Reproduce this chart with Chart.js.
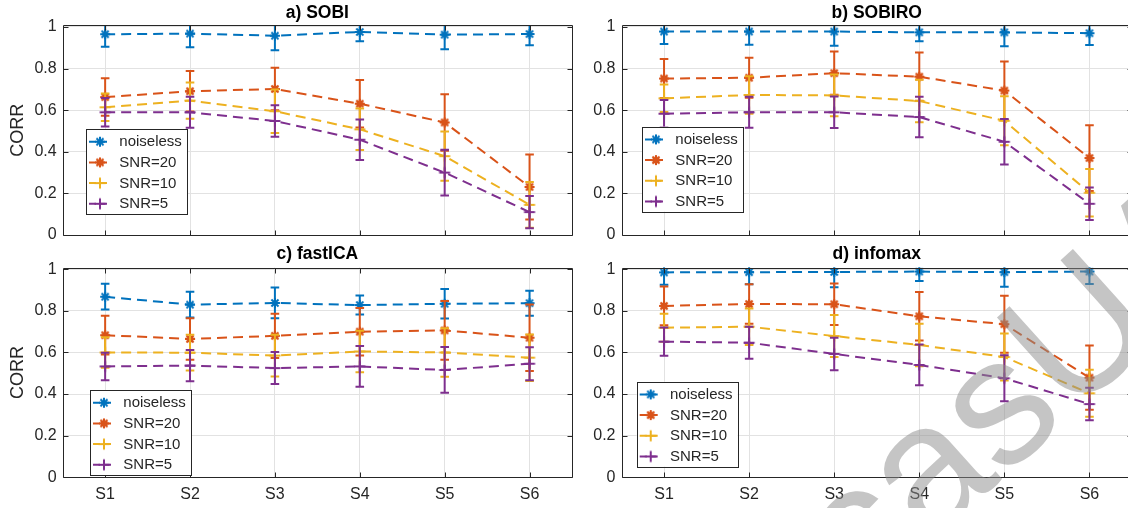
<!DOCTYPE html>
<html>
<head>
<meta charset="utf-8">
<script src="https://cdn.jsdelivr.net/npm/chart.js@4.4.1/dist/chart.umd.min.js"></script>
<style>
html,body{margin:0;padding:0;background:#fff;overflow:hidden;width:1128px;height:508px;position:relative;}
canvas{position:absolute;display:block;}
</style>
</head>
<body>
<canvas id="ca" width="600" height="252" style="left:0;top:0"></canvas>
<canvas id="cb" width="580" height="252" style="left:560px;top:0"></canvas>
<canvas id="cc" width="600" height="268" style="left:0;top:240px"></canvas>
<canvas id="cd" width="580" height="268" style="left:560px;top:240px"></canvas>
<canvas id="wm" width="1128" height="508" style="left:0;top:0;pointer-events:none"></canvas>
<script>
// ---------- data ----------
const categories = ['S1','S2','S3','S4','S5','S6'];
const seriesNames = ['noiseless','SNR=20','SNR=10','SNR=5'];
const yTickValues = [0, 0.2, 0.4, 0.6, 0.8, 1];
const panelTitles = ['a) SOBI','b) SOBIRO','c) fastICA','d) infomax'];
const yAxisTitle = 'CORR';
const watermarkText = 'casUA';

const sobiNoiseless    = [0.965, 0.968, 0.958, 0.976, 0.963, 0.966];
const sobiNoiselessErr = [0.060, 0.066, 0.070, 0.045, 0.070, 0.054];
const sobiSnr20        = [0.663, 0.691, 0.702, 0.631, 0.541, 0.231];
const sobiSnr20Err     = [0.090, 0.097, 0.102, 0.114, 0.136, 0.156];
const sobiSnr10        = [0.614, 0.646, 0.595, 0.508, 0.379, 0.145];
const sobiSnr10Err     = [0.066, 0.087, 0.105, 0.100, 0.118, 0.110];
const sobiSnr5         = [0.590, 0.590, 0.548, 0.458, 0.300, 0.110];
const sobiSnr5Err      = [0.068, 0.074, 0.076, 0.097, 0.110, 0.078];

const sobiroNoiseless    = [0.978, 0.978, 0.978, 0.974, 0.974, 0.970];
const sobiroNoiselessErr = [0.060, 0.064, 0.068, 0.043, 0.067, 0.057];
const sobiroSnr20        = [0.752, 0.756, 0.778, 0.761, 0.694, 0.370];
const sobiroSnr20Err     = [0.094, 0.096, 0.104, 0.116, 0.140, 0.158];
const sobiroSnr10        = [0.657, 0.673, 0.671, 0.644, 0.549, 0.203];
const sobiroSnr10Err     = [0.066, 0.090, 0.100, 0.102, 0.118, 0.114];
const sobiroSnr5         = [0.583, 0.590, 0.590, 0.567, 0.448, 0.150];
const sobiroSnr5Err      = [0.066, 0.075, 0.076, 0.097, 0.109, 0.078];

const fasticaNoiseless    = [0.868, 0.830, 0.838, 0.828, 0.834, 0.837];
const fasticaNoiselessErr = [0.062, 0.062, 0.074, 0.046, 0.071, 0.060];
const fasticaSnr20        = [0.683, 0.665, 0.680, 0.700, 0.706, 0.671];
const fasticaSnr20Err     = [0.093, 0.100, 0.106, 0.114, 0.141, 0.160];
const fasticaSnr10        = [0.600, 0.599, 0.585, 0.605, 0.600, 0.575];
const fasticaSnr10Err     = [0.073, 0.086, 0.100, 0.100, 0.117, 0.112];
const fasticaSnr5         = [0.533, 0.537, 0.525, 0.533, 0.516, 0.546];
const fasticaSnr5Err      = [0.066, 0.075, 0.077, 0.098, 0.110, 0.079];

const infomaxNoiseless    = [0.985, 0.986, 0.987, 0.989, 0.986, 0.989];
const infomaxNoiselessErr = [0.060, 0.058, 0.074, 0.045, 0.070, 0.060];
const infomaxSnr20        = [0.824, 0.833, 0.832, 0.774, 0.736, 0.479];
const infomaxSnr20Err     = [0.093, 0.095, 0.100, 0.117, 0.137, 0.154];
const infomaxSnr10        = [0.719, 0.724, 0.679, 0.636, 0.578, 0.404];
const infomaxSnr10Err     = [0.067, 0.088, 0.101, 0.102, 0.113, 0.113];
const infomaxSnr5         = [0.652, 0.647, 0.593, 0.540, 0.476, 0.352];
const infomaxSnr5Err      = [0.068, 0.077, 0.078, 0.098, 0.111, 0.078];

// ---------- styles ----------
const seriesColors = ['#0072BD', '#D95319', '#EDB120', '#7E2F8E'];
const markerKinds = ['star', 'blob', 'cross', 'cross'];
const FONT = '"Liberation Sans", Arial, Helvetica, sans-serif';
const TXT = '#262626';
const GRID = '#e2e2e2';

Chart.defaults.font.family = FONT;
Chart.defaults.color = TXT;

function makeMarker(kind, color) {
  const c = document.createElement('canvas');
  c.width = 16; c.height = 16;
  const g = c.getContext('2d');
  g.strokeStyle = color; g.fillStyle = color; g.lineWidth = 2;
  const cx = 8, cy = 8;
  const arms = (kind === 'cross') ? [0, 90] : [0, 45, 90, 135];
  const r = (kind === 'cross') ? 5.5 : 5;
  g.beginPath();
  arms.forEach(a => {
    const rad = a * Math.PI / 180;
    const dx = Math.cos(rad) * r, dy = Math.sin(rad) * r;
    g.moveTo(cx - dx, cy - dy); g.lineTo(cx + dx, cy + dy);
  });
  g.stroke();
  if (kind === 'blob') { g.beginPath(); g.arc(cx, cy, 3.6, 0, Math.PI * 2); g.fill(); }
  return c;
}
const markerImages = seriesColors.map((col, k) => makeMarker(markerKinds[k], col));

// ---------- plugins ----------
const errorBarPlugin = {
  id: 'errorBars',
  afterDatasetDraw(chart, args) {
    const ds = chart.data.datasets[args.index];
    if (!ds.errorBars) return;
    const ctx = chart.ctx, ys = chart.scales.y, a = chart.chartArea;
    ctx.save();
    ctx.beginPath(); ctx.rect(a.left, a.top, a.right - a.left, a.bottom - a.top); ctx.clip();
    ctx.strokeStyle = ds.borderColor; ctx.lineWidth = 2; ctx.setLineDash([]);
    args.meta.data.forEach((pt, i) => {
      const v = ds.data[i], e = ds.errorBars[i];
      const yt = ys.getPixelForValue(v + e), yb = ys.getPixelForValue(v - e);
      const w = 4.3;
      ctx.beginPath();
      ctx.moveTo(pt.x, yt); ctx.lineTo(pt.x, yb);
      ctx.moveTo(pt.x - w, yt); ctx.lineTo(pt.x + w, yt);
      ctx.moveTo(pt.x - w, yb); ctx.lineTo(pt.x + w, yb);
      ctx.stroke();
    });
    ctx.restore();
  }
};

const framePlugin = {
  id: 'frame',
  afterDatasetsDraw(chart) {
    const ctx = chart.ctx, a = chart.chartArea;
    const xs = chart.scales.x, ys = chart.scales.y;
    ctx.save();
    ctx.strokeStyle = TXT; ctx.lineWidth = 1; ctx.setLineDash([]);
    const L = Math.round(a.left) + 0.5, R = Math.round(a.right) + 0.5;
    const T = Math.round(a.top) + 0.5, B = Math.round(a.bottom) + 0.5;
    ctx.beginPath();
    ctx.rect(L, T, R - L, B - T);
    const tl = 5;
    xs.ticks.forEach((t, i) => {
      const x = Math.round(xs.getPixelForTick(i)) + 0.5;
      ctx.moveTo(x, B); ctx.lineTo(x, B - tl);
      ctx.moveTo(x, T); ctx.lineTo(x, T + tl);
    });
    ys.ticks.forEach(t => {
      const y = Math.round(ys.getPixelForValue(t.value)) + 0.5;
      ctx.moveTo(L, y); ctx.lineTo(L + tl, y);
      ctx.moveTo(R, y); ctx.lineTo(R - tl, y);
    });
    ctx.stroke();
    ctx.restore();
  },
  afterDraw(chart) {
    const o = chart.options.plugins.frame;
    const ctx = chart.ctx, a = chart.chartArea;
    ctx.save();
    ctx.fillStyle = '#000';
    ctx.font = 'bold 17.5px ' + FONT;
    ctx.textAlign = 'center'; ctx.textBaseline = 'middle';
    ctx.fillText(o.title, (a.left + a.right) / 2, o.titleY);
    const lx = o.legendX, ly = o.legendY, lw = 101, lh = 85;
    ctx.fillStyle = '#fff';
    ctx.fillRect(lx, ly, lw, lh);
    ctx.strokeStyle = TXT; ctx.lineWidth = 1;
    ctx.strokeRect(Math.round(lx) + 0.5, Math.round(ly) + 0.5, lw, lh);
    ctx.font = '15px ' + FONT;
    ctx.textAlign = 'left'; ctx.textBaseline = 'middle';
    chart.data.datasets.forEach((ds, k) => {
      const y = ly + 12.7 + k * 20.7;
      ctx.strokeStyle = ds.borderColor; ctx.lineWidth = 2; ctx.setLineDash([7, 4]);
      ctx.beginPath(); ctx.moveTo(lx + 3, y); ctx.lineTo(lx + 25, y); ctx.stroke();
      ctx.setLineDash([]);
      ctx.drawImage(ds.pointStyle, lx + 14 - 8, y - 8);
      ctx.fillStyle = TXT;
      ctx.fillText(ds.label, lx + 33.3, y + 0.5);
    });
    ctx.restore();
  }
};

// ---------- panels ----------
const panels = [
  { id: 'ca', left: 0,   top: 0,   yAxisW: 62.7, padTop: 25.3, padRight: 28,  xAxisH: 17,   showX: false, showYTitle: true,
    titleY: 13, legendX: 86,    legendY: 129,
    values: [sobiNoiseless, sobiSnr20, sobiSnr10, sobiSnr5],
    errors: [sobiNoiselessErr, sobiSnr20Err, sobiSnr10Err, sobiSnr5Err], title: panelTitles[0] },
  { id: 'cb', left: 560, top: 0,   yAxisW: 61.5, padTop: 25.3, padRight: 7.9, xAxisH: 17,   showX: false, showYTitle: false,
    titleY: 13, legendX: 642,   legendY: 126.7,
    values: [sobiroNoiseless, sobiroSnr20, sobiroSnr10, sobiroSnr5],
    errors: [sobiroNoiselessErr, sobiroSnr20Err, sobiroSnr10Err, sobiroSnr5Err], title: panelTitles[1] },
  { id: 'cc', left: 0,   top: 240, yAxisW: 62.7, padTop: 27.6, padRight: 28,  xAxisH: 30.7, showX: true,  showYTitle: true,
    titleY: 254.5, legendX: 90,    legendY: 390,
    values: [fasticaNoiseless, fasticaSnr20, fasticaSnr10, fasticaSnr5],
    errors: [fasticaNoiselessErr, fasticaSnr20Err, fasticaSnr10Err, fasticaSnr5Err], title: panelTitles[2] },
  { id: 'cd', left: 560, top: 240, yAxisW: 61.5, padTop: 27.6, padRight: 7.9, xAxisH: 30.7, showX: true,  showYTitle: false,
    titleY: 254.5, legendX: 636.7, legendY: 381.7,
    values: [infomaxNoiseless, infomaxSnr20, infomaxSnr10, infomaxSnr5],
    errors: [infomaxNoiselessErr, infomaxSnr20Err, infomaxSnr10Err, infomaxSnr5Err], title: panelTitles[3] }
];

panels.forEach(p => {
  const datasets = p.values.map((vals, k) => ({
    label: seriesNames[k],
    data: vals,
    errorBars: p.errors[k],
    borderColor: seriesColors[k],
    backgroundColor: seriesColors[k],
    borderWidth: 2,
    borderDash: [10, 6],
    pointStyle: markerImages[k],
    pointRadius: 6,
    fill: false,
    tension: 0,
    order: 4 - k
  }));
  new Chart(document.getElementById(p.id), {
    type: 'line',
    data: { labels: categories, datasets },
    plugins: [errorBarPlugin, framePlugin],
    options: {
      responsive: false,
      animation: false,
      events: [],
      layout: { padding: { top: p.padTop, right: p.padRight, left: 0, bottom: 0 } },
      plugins: {
        legend: { display: false },
        title: { display: false },
        tooltip: { enabled: false },
        frame: { title: p.title, titleY: p.titleY - p.top, legendX: p.legendX - p.left, legendY: p.legendY - p.top }
      },
      scales: {
        x: {
          type: 'category',
          offset: true,
          grid: { color: GRID, lineWidth: 1, drawTicks: false, offset: false },
          border: { display: false },
          ticks: { display: p.showX, font: { size: 16 }, color: TXT, padding: 8, maxRotation: 0, autoSkip: false },
          afterFit: s => { s.height = p.xAxisH; }
        },
        y: {
          min: 0, max: 1.008,
          afterBuildTicks: s => { s.ticks = yTickValues.map(v => ({ value: v })); },
          grid: { color: GRID, lineWidth: 1, drawTicks: false },
          border: { display: false },
          ticks: { font: { size: 16 }, color: TXT, padding: 6, callback: v => String(v) },
          title: { display: p.showYTitle, text: yAxisTitle, font: { size: 18 }, color: TXT, padding: { top: 7, bottom: 0 } },
          afterFit: s => { s.width = p.yAxisW; }
        }
      }
    }
  });
});

// ---------- watermark ----------
(function () {
  const ctx = document.getElementById('wm').getContext('2d');
  ctx.save();
  ctx.translate(1025, 392);
  ctx.rotate(-42 * Math.PI / 180);
  ctx.font = '180px ' + FONT;
  ctx.textAlign = 'center'; ctx.textBaseline = 'middle';
  ctx.fillStyle = 'rgba(140,140,140,0.5)';
  ctx.fillText(watermarkText, 0, 0);
  ctx.restore();
})();
</script>
</body>
</html>
